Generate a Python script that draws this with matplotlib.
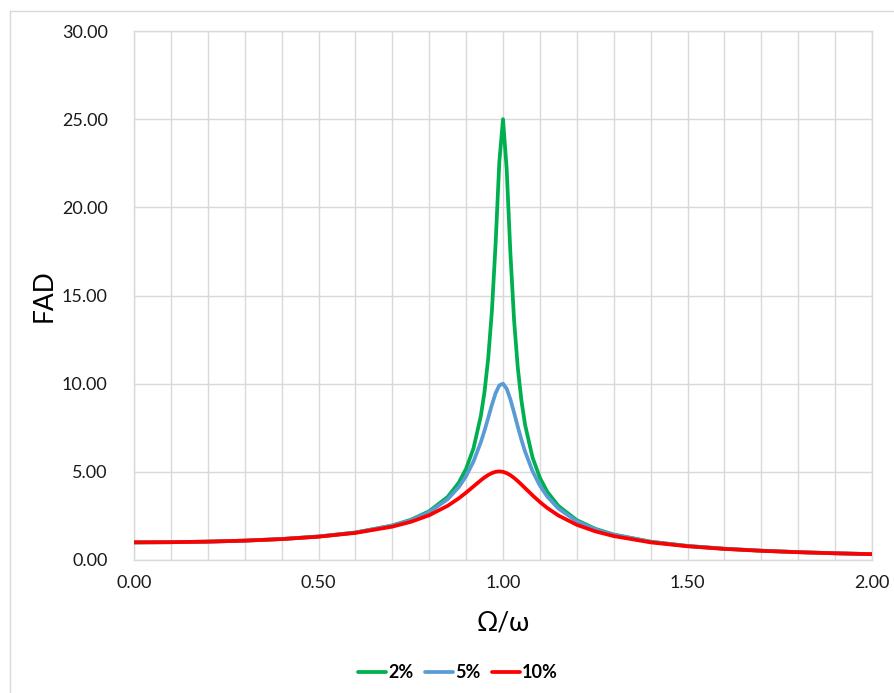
import matplotlib
matplotlib.use("Agg")
import matplotlib.pyplot as plt
from matplotlib.lines import Line2D

plt.rcParams['font.family'] = ['Lato', 'DejaVu Sans']

# Frequency ratio Omega/omega
ratio = [0.00, 0.10, 0.20, 0.30, 0.40, 0.50, 0.60, 0.70, 0.75, 0.80, 0.85,
         0.88, 0.90, 0.92, 0.94, 0.95, 0.96, 0.97, 0.98, 0.99, 1.00, 1.01,
         1.02, 1.03, 1.04, 1.05, 1.06, 1.08, 1.10, 1.12, 1.15, 1.20, 1.25,
         1.30, 1.40, 1.50, 1.60, 1.70, 1.80, 1.90, 2.00]

# Dynamic amplification factor for each damping ratio
fad_2 = [1.000, 1.010, 1.042, 1.099, 1.190, 1.333, 1.561, 1.958, 2.280, 2.767,
         3.577, 4.380, 5.171, 6.331, 8.175, 9.556, 11.455, 14.145, 17.947,
         22.564, 25.000, 22.161, 17.416, 13.600, 10.918, 9.028, 7.653, 5.817,
         4.661, 3.871, 3.070, 2.259, 1.771, 1.445, 1.040, 0.799, 0.641, 0.529,
         0.446, 0.383, 0.333]
fad_5 = [1.000, 1.010, 1.041, 1.098, 1.189, 1.330, 1.556, 1.943, 2.253, 2.712,
         3.446, 4.130, 4.757, 5.585, 6.684, 7.346, 8.068, 8.804, 9.461, 9.903,
         10.000, 9.711, 9.115, 8.357, 7.565, 6.815, 6.142, 5.041, 4.218, 3.598,
         2.921, 2.193, 1.736, 1.424, 1.031, 0.794, 0.638, 0.527, 0.445, 0.382,
         0.333]
fad_10 = [1.000, 1.010, 1.041, 1.097, 1.185, 1.322, 1.536, 1.891, 2.162, 2.538,
          3.073, 3.495, 3.821, 4.172, 4.523, 4.683, 4.822, 4.931, 5.001, 5.025,
          5.000, 4.926, 4.809, 4.655, 4.476, 4.279, 4.075, 3.668, 3.288, 2.950,
          2.525, 1.995, 1.625, 1.356, 1.000, 0.778, 0.628, 0.521, 0.441, 0.379,
          0.330]

labels = ['2%', '5%', '10%']
colors = ['#00B050', '#5B9BD5', '#FF0000']
x_ticks = [0.0, 0.5, 1.0, 1.5, 2.0]
y_ticks = [0, 5, 10, 15, 20, 25, 30]

fig = plt.figure(figsize=(8.95, 6.93), dpi=100)

# chart-area frame (top and left edges visible)
fig.add_artist(Line2D([10/895, 10/895], [0, 1 - 11/693], transform=fig.transFigure,
                      color='#d9d9d9', lw=1.0))
fig.add_artist(Line2D([10/895, 1], [1 - 11/693, 1 - 11/693], transform=fig.transFigure,
                      color='#d9d9d9', lw=1.0))

ax = fig.add_axes([134/895, 1 - 560/693, (872 - 134)/895, (560 - 31)/693])

for ys, lab, c in zip([fad_2, fad_5, fad_10], labels, colors):
    ax.plot(ratio, ys, color=c, lw=2.7, label=lab, solid_capstyle='round', zorder=3)

ax.set_xlim(0, 2)
ax.set_ylim(0, 30)
ax.set_xticks(x_ticks)
ax.set_xticks([i / 10 for i in range(21)], minor=True)
ax.set_yticks(y_ticks)
ax.set_xticklabels([f'{v:.2f}' for v in x_ticks])
ax.set_yticklabels([f'{v:.2f}' for v in y_ticks])
ax.tick_params(axis='both', which='both', length=0, labelsize=13,
               colors='#404040', labelcolor='#1a1a1a')
ax.tick_params(axis='x', pad=11)
ax.tick_params(axis='y', pad=19)

ax.grid(True, which='both', axis='x', color='#d9d9d9', lw=1.0)
ax.grid(True, which='major', axis='y', color='#d9d9d9', lw=1.0)
ax.set_axisbelow(True)
for s in ax.spines.values():
    s.set_color('#d9d9d9')
    s.set_linewidth(1.0)

ax.set_xlabel('Ω/ω', fontsize=19, color='#000000', va='center')
ax.xaxis.set_label_coords(0.5, (560 - 623) / 529)
ax.set_ylabel('FAD', fontsize=19, color='#000000', va='center')
ax.yaxis.set_label_coords((44 - 134) / 738, 0.5)

leg = fig.legend(loc='center', bbox_to_anchor=(458/895, 1 - 673/693), ncol=3,
                 frameon=False, handlelength=1.55, handletextpad=0.15,
                 columnspacing=0.6, prop={'weight': 'bold', 'size': 13})

fig.savefig('out.png', dpi=100, facecolor='white')
